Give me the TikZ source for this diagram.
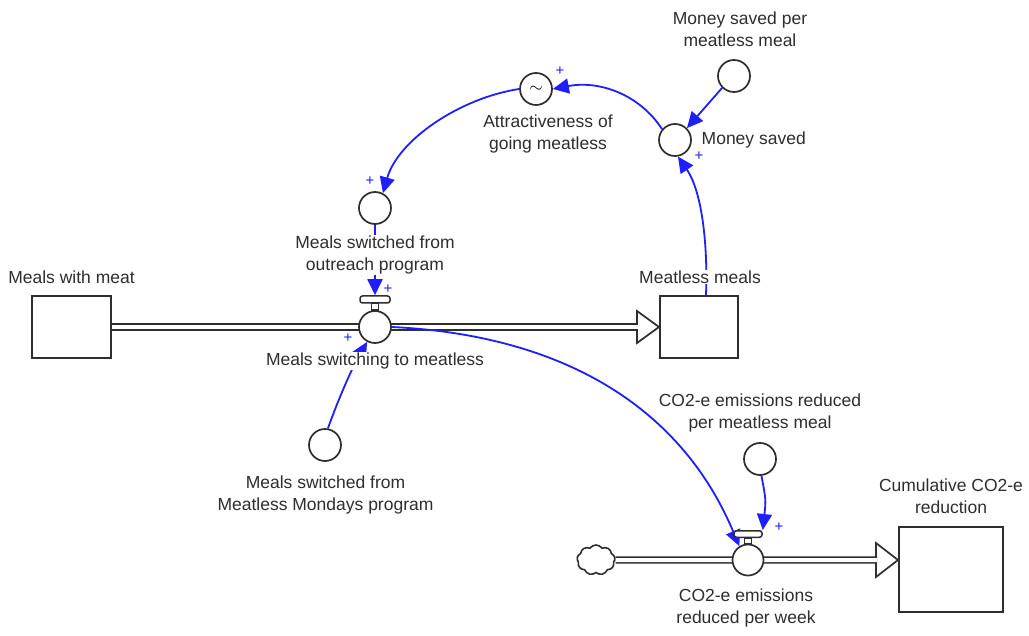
\documentclass[tikz,border=0pt]{standalone}
\usepackage{fontspec}
\setmainfont{Liberation Sans}
\usetikzlibrary{arrows.meta,shapes.symbols,calc,backgrounds}
\definecolor{ink}{HTML}{2E2E2E}
\definecolor{linkblue}{HTML}{1E1EFF}
\begin{document}
\begin{tikzpicture}[x=1pt,y=-1pt,
  font=\fontsize{17.5}{22}\selectfont,
  stockbox/.style={draw=ink, line width=2pt, fill=white, inner sep=0pt},
  auxc/.style={circle, draw=ink, line width=1.7pt, fill=white, minimum size=32pt, inner sep=0pt},
  valvec/.style={circle, draw=ink, line width=1.7pt, fill=white, minimum size=32pt, inner sep=0pt},
  valvebar/.style={rectangle, rounded corners=2.5pt, draw=ink, line width=1.5pt, fill=white, minimum width=30pt, minimum height=7pt, inner sep=0pt},
  stemst/.style={draw=ink, line width=1.3pt, fill=white},
  pipe/.style={draw=ink, line width=1.7pt, double=white, double distance=4pt},
  flowtip/.style={draw=ink, line width=1.7pt, fill=white, line join=miter},
  lnk/.style={draw=linkblue, line width=1.8pt, -{Triangle[length=16pt,width=15pt]}},
  lbl/.style={text=ink, fill=white, inner sep=0.5pt, align=center},
  pl/.style={text=linkblue, inner sep=0pt, font=\fontsize{15}{15}\selectfont}]
\useasboundingbox (0,0) rectangle (1029,636);

% stocks
\node[stockbox, minimum width=79pt, minimum height=62pt] (mwm) at (71.5,327) {};
\node[stockbox, minimum width=78pt, minimum height=62pt] (mm) at (699,327) {};
\node[stockbox, minimum width=104pt, minimum height=85pt] (cum) at (951,569.5) {};

% valve 1
\node[valvec] (v1) at (375,327) {};
\node[valvebar] (bar1) at (375,299.5) {};
\draw[stemst] ($(bar1.south)+(-3.5,0)$) rectangle ($(v1.north)+(3.5,0)$);

% valve 2
\node[valvec, minimum size=31pt] (v2) at (748,560) {};
\node[valvebar, minimum width=28pt, minimum height=6.5pt] (bar2) at (748,534) {};
\draw[stemst] ($(bar2.south)+(-3.5,0)$) rectangle ($(v2.north)+(3.5,0)$);

% cloud source
\node[cloud, cloud puffs=9, cloud puff arc=110, aspect=1.3, draw=ink, line width=1.6pt, fill=white, minimum width=38pt, minimum height=30pt, inner sep=0pt] (cloud) at (596,560) {};

% auxiliaries
\node[auxc] (oa) at (375,208) {};
\node[auxc] (att) at (536,89) {$\sim$};
\node[auxc] (ms) at (675,140) {};
\node[auxc] (msp) at (734,76) {};
\node[auxc] (mon) at (325,445) {};
\node[auxc] (co2a) at (760,459) {};

\begin{scope}[on background layer]
  \fill[white] (0,0) rectangle (1029,636);
  % flow triangles
  \draw[flowtip] (mm.west) -- ++(-22,-16) -- ++(0,32) -- cycle;
  \draw[flowtip] (cum.west |- cloud) -- ++(-22,-17) -- ++(0,34) -- cycle;
  % pipes
  \draw[pipe] (mwm.east) -- ($(mm.west)+(-21,0)$);
  \draw[pipe] (cloud.east) -- ($(cum.west |- cloud)+(-21,0)$);
  % connectors
  \draw[lnk] (oa.south) -- (bar1.north);
  \draw[lnk] (mon.80) .. controls (338,400) and (352,368) .. (v1.-118);
  \draw[lnk] (msp.-135) -- (ms.45);
  \draw[lnk] (mm.north -| 706,0) .. controls (708,240) and (701,190) .. (ms.-80);
  \draw[lnk] (ms.140) .. controls (640,95) and (600,80) .. (att.east);
  \draw[lnk] (att.west) .. controls (460,98) and (398,140) .. (oa.62);
  \draw[lnk] (v1.east) .. controls (560,335) and (680,405) .. (v2.122);
  \draw[lnk] (co2a.-85) .. controls (766,500) .. (bar2.north east);
\end{scope}

% labels
\node[lbl] (lmwm) at (71.5,277) {Meals with meat};
\node[lbl] (lmm) at (700,277) {Meatless meals};
\node[lbl] (lmsp) at (740,29) {Money saved per\\meatless meal};
\node[lbl, anchor=west] (lms) at (701,140) {Money saved};
\node[lbl] (latt) at (548,134) {Attractiveness of\\going meatless};
\node[lbl] (loa) at (375,255) {Meals switched from\\outreach program};
\node[lbl] (lv1) at (375,361) {Meals switching to meatless};
\node[lbl] (lmon) at (325.5,495) {Meals switched from\\Meatless Mondays program};
\node[lbl, fill=none] (lco2a) at (760,413) {CO2-e emissions reduced\\per meatless meal};
\node[lbl] (lcum) at (951,496) {Cumulative CO2-e\\reduction};
\node[lbl] (lv2) at (746,608) {CO2-e emissions\\reduced per week};

% polarity signs
\node[pl] (p1) at (388,289) {+};
\node[pl] (p2) at (348,338) {+};
\node[pl] (p3) at (370,181) {+};
\node[pl] (p4) at (560,71) {+};
\node[pl] (p5) at (699,156) {+};
\node[pl] (p6) at (779,527) {+};
\end{tikzpicture}
\end{document}
